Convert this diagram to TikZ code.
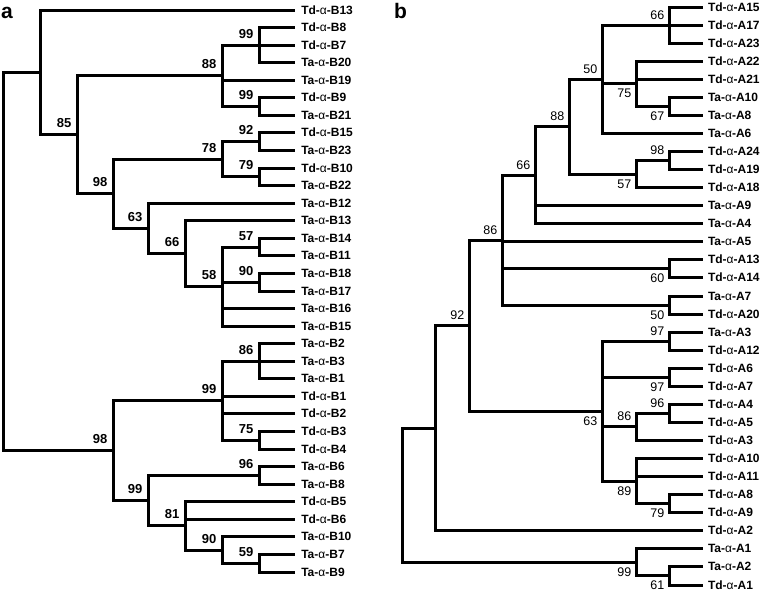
\documentclass[tikz,border=0pt]{standalone}
\usepackage{fontspec}
\setmainfont{Liberation Sans}
\usetikzlibrary{calc}
\newcommand\myalpha{{\mdseries α}}
\begin{document}
\begin{tikzpicture}[x=1pt,y=-1pt,
  declare function={ya(\k)=floor(10+17.5625*\k)+0.5; yb(\k)=floor(7+18.0625*\k)+0.5; rx(\k)=floor(402.3+33.4*\k)+0.5;},
  br/.style={line width=3pt, line join=miter, line cap=butt},
  leafnode/.style={anchor=west, font=\fontsize{12}{14}\selectfont\bfseries, inner sep=0pt, outer xsep=6.3pt, text height=8.6pt, text depth=0pt},
  bsa/.style={anchor=base east, font=\fontsize{13}{15}\selectfont\bfseries, inner sep=0pt},
  bsb/.style={anchor=base east, font=\fontsize{12.5}{15}\selectfont, inner sep=0pt},
  panel/.style={anchor=base west, font=\fontsize{21}{24}\selectfont\bfseries, inner sep=0pt}]
\useasboundingbox (0,0) rectangle (762,592);
\fill[white] (0,0) rectangle (762,592);
% panel letters
\node[panel] (pa) at (1,18) {a};
\node[panel] (pb) at (394,18.5) {b};
% ---------------- tree a ----------------
\foreach \n/\x/\k in {root/3.5/14.324, n40/40.5/3.5547, c85/77.5/7.109375, c88/222.5/3.75,
  c99a/259.5/2, c99b/259.5/5.5, c98a/113.5/10.46875, c78/222.5/8.5, c92/259.5/7.5, c79/259.5/9.5,
  c63/148.5/12.4375, c66/185.5/13.875, c58/222.5/15.75, c57/259.5/13.5, c90a/259.5/15.5,
  c98b/113.5/25.09375, c99c/222.5/22.25, c86/259.5/20, c75/259.5/24.5, c99d/148.5/27.9375,
  c96/259.5/26.5, c81/185.5/29.375, c90b/222.5/30.75, c59/259.5/31.5}
  \coordinate (\n) at (\x,{ya(\k)});
\foreach \a/\b in {root/n40, root/c98b, n40/c85, c85/c88, c85/c98a, c88/c99a, c88/c99b,
  c98a/c78, c98a/c63, c78/c92, c78/c79, c63/c66, c66/c58, c58/c57, c58/c90a,
  c98b/c99c, c98b/c99d, c99c/c86, c99c/c75, c99d/c96, c99d/c81, c81/c90b, c90b/c59}
  \draw[br] (\a) |- (\b);
\foreach \i/\sp/\id/\p in {0/Td/B13/n40, 1/Td/B8/c99a, 2/Td/B7/c99a, 3/Ta/B20/c99a,
  4/Ta/B19/c88, 5/Td/B9/c99b, 6/Ta/B21/c99b, 7/Td/B15/c92, 8/Ta/B23/c92, 9/Td/B10/c79,
  10/Ta/B22/c79, 11/Ta/B12/c63, 12/Ta/B13/c66, 13/Ta/B14/c57, 14/Ta/B11/c57,
  15/Ta/B18/c90a, 16/Ta/B17/c90a, 17/Ta/B16/c58, 18/Ta/B15/c58, 19/Ta/B2/c86,
  20/Ta/B3/c86, 21/Ta/B1/c86, 22/Td/B1/c99c, 23/Td/B2/c99c, 24/Td/B3/c75, 25/Td/B4/c75,
  26/Ta/B6/c96, 27/Ta/B8/c96, 28/Td/B5/c81, 29/Td/B6/c81, 30/Ta/B10/c90b,
  31/Ta/B7/c59, 32/Ta/B9/c59}
{
  \node[leafnode] (la\i) at (295,{ya(\i)}) {\sp-\myalpha-\id};
  \draw[br] (\p) |- (la\i.west);
}
\foreach \n/\v in {c99a/99, c88/88, c99b/99, c85/85, c92/92, c78/78, c79/79, c98a/98,
  c63/63, c66/66, c57/57, c58/58, c90a/90, c86/86, c99c/99, c75/75, c98b/98, c96/96,
  c99d/99, c81/81, c90b/90, c59/59}
  \node[bsa] (t\n) at ($(\n)+(-6,-7)$) {\v};
% ---------------- tree b ----------------
\foreach \n/\k/\j in {rroot/0/27.035, rn/1/23.32, r92/2/17.64, r86/3/12.906,
  r66b/4/9.3125, r88/5/6.625, r50a/6/4, r66a/8/1, r75/7/4.25, r67/8/5.5, r57/7/9.25,
  r98/8/8.5, r60/8/14.5, r50b/8/16.5, r63/6/22.375, r97a/8/18.5, r97b/8/20.5,
  r86b/7/23.25, r96/8/22.5, r89/7/26.25, r79/8/27.5, r99/7/30.75, r61/8/31.5}
  \coordinate (\n) at ({rx(\k)},{yb(\j)});
\foreach \a/\b in {rroot/rn, rroot/r99, rn/r92, r92/r86, r92/r63, r86/r66b, r86/r60,
  r86/r50b, r66b/r88, r88/r50a, r88/r57, r50a/r66a, r50a/r75, r75/r67, r57/r98,
  r63/r97a, r63/r97b, r63/r86b, r63/r89, r86b/r96, r89/r79, r99/r61}
  \draw[br] (\a) |- (\b);
\foreach \i/\sp/\id/\p in {0/Td/A15/r66a, 1/Td/A17/r66a, 2/Td/A23/r66a, 3/Td/A22/r75,
  4/Td/A21/r75, 5/Ta/A10/r67, 6/Ta/A8/r67, 7/Ta/A6/r50a, 8/Td/A24/r98, 9/Td/A19/r98,
  10/Td/A18/r57, 11/Ta/A9/r66b, 12/Ta/A4/r66b, 13/Ta/A5/r86, 14/Td/A13/r60,
  15/Td/A14/r60, 16/Ta/A7/r50b, 17/Td/A20/r50b, 18/Ta/A3/r97a, 19/Td/A12/r97a,
  20/Td/A6/r97b, 21/Td/A7/r97b, 22/Td/A4/r96, 23/Td/A5/r96, 24/Td/A3/r86b,
  25/Td/A10/r89, 26/Td/A11/r89, 27/Td/A8/r79, 28/Td/A9/r79, 29/Td/A2/rn,
  30/Ta/A1/r99, 31/Ta/A2/r61, 32/Td/A1/r61}
{
  \node[leafnode, outer xsep=5pt] (lb\i) at (703,{yb(\i)}) {\sp-\myalpha-\id};
  \draw[br] (\p) |- (lb\i.west);
}
\foreach \n/\v in {r66a/66, r50a/50, r88/88, r98/98, r66b/66, r86/86, r97a/97, r92/92,
  r96/96, r86b/86}
  \node[bsb] (t\n) at ($(\n)+(-5,-5.8)$) {\v};
\foreach \n/\v in {r75/75, r67/67, r57/57, r60/60, r50b/50, r97b/97, r63/63, r89/89,
  r79/79, r99/99, r61/61}
  \node[bsb] (t\n) at ($(\n)+(-5,14.2)$) {\v};
\end{tikzpicture}
\end{document}
